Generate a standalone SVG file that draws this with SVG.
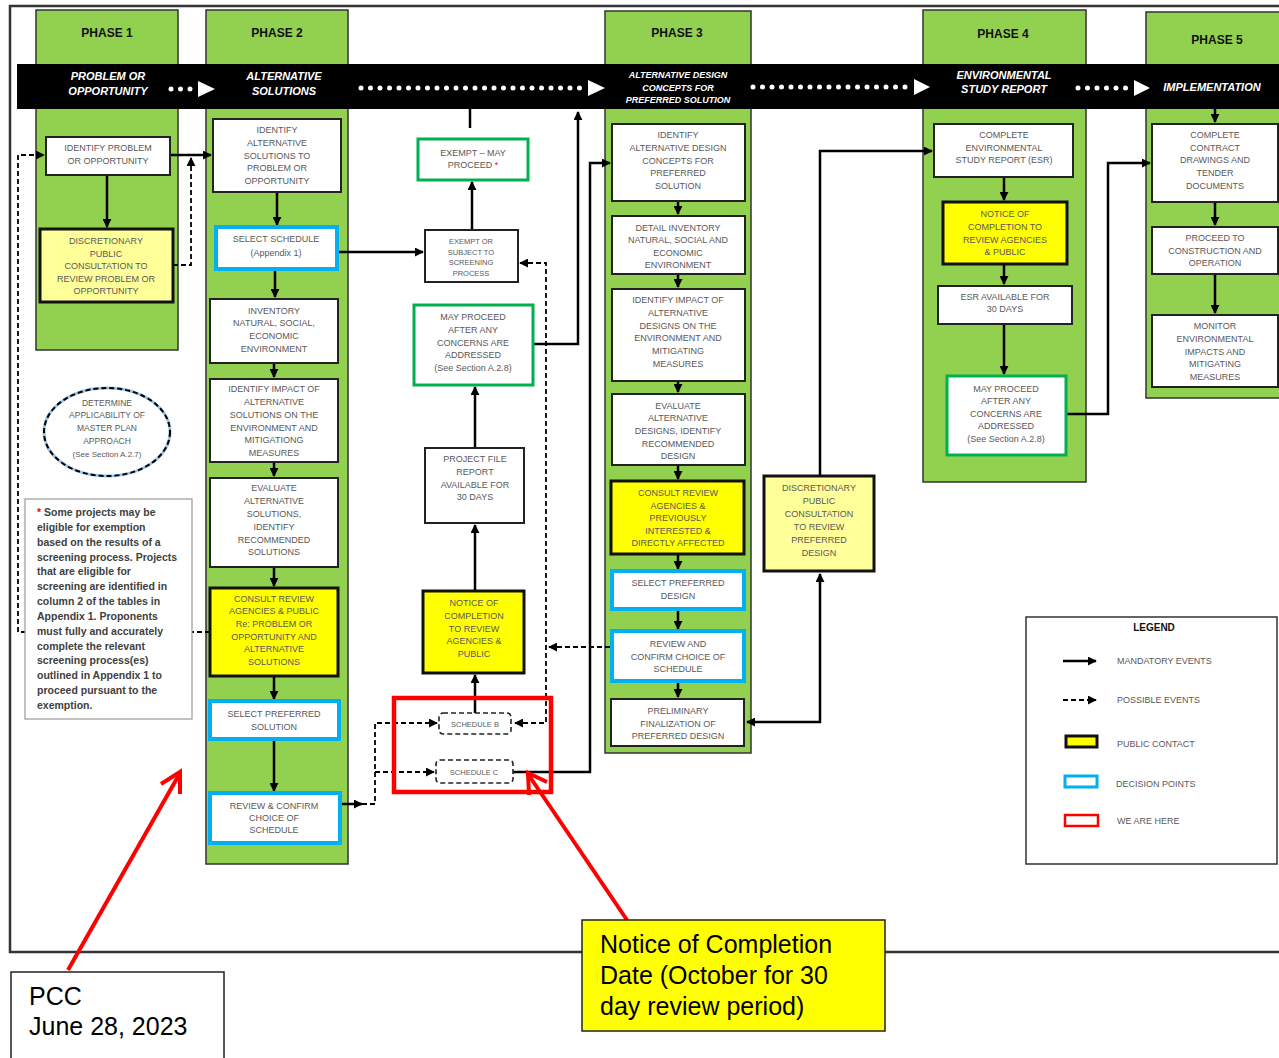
<svg xmlns="http://www.w3.org/2000/svg" width="1279" height="1058" viewBox="0 0 1279 1058">
<defs>
<style>
.t{font-family:"Liberation Sans",Arial,sans-serif;font-size:9px;fill:#595959;text-anchor:middle;dominant-baseline:central}
.ph{font-family:"Liberation Sans",Arial,sans-serif;font-size:12px;font-weight:bold;fill:#111;text-anchor:middle;dominant-baseline:central}
.bn{font-family:"Liberation Sans",Arial,sans-serif;font-size:11px;font-weight:bold;font-style:italic;fill:#fff;text-anchor:middle;dominant-baseline:central}
.col{fill:#92D050;stroke:#333;stroke-width:1.5}
.wb{fill:#fff;stroke:#222;stroke-width:2}
.yb{fill:#FFFF00;stroke:#111;stroke-width:3}
.pb{fill:#FFFF99;stroke:#111;stroke-width:3}
.bb{fill:#fff;stroke:#00B0F0;stroke-width:4}
.gb{fill:#fff;stroke:#00B050;stroke-width:3}
.sol{fill:none;stroke:#000;stroke-width:2.5;marker-end:url(#ah)}
.sl{fill:none;stroke:#000;stroke-width:2.5}
.das{fill:none;stroke:#000;stroke-width:1.8;stroke-dasharray:5 3;marker-end:url(#ah)}
.dots{stroke:#fff;stroke-width:5;stroke-linecap:round;stroke-dasharray:0 9.5}
.big{font-family:"Liberation Sans",Arial,sans-serif;font-size:25px;fill:#000}
.nt{font-family:"Liberation Sans",Arial,sans-serif;font-size:10.5px;font-weight:bold;fill:#404040}
</style>
<marker id="ah" viewBox="0 0 10 10" refX="9" refY="5" markerWidth="9" markerHeight="9" markerUnits="userSpaceOnUse" orient="auto-start-reverse">
<polygon points="0,0 10,5 0,10" fill="#000"/>
</marker>
</defs>
<rect width="1279" height="1058" fill="#fff"/>
<rect x="10" y="6" width="1300" height="946" fill="none" stroke="#333" stroke-width="2.5"/>

<!-- phase columns -->
<g id="phase1"><rect class="col" x="36" y="10" width="142" height="340"/><text class="ph" x="107" y="33">PHASE 1</text></g>
<g id="phase2"><rect class="col" x="206" y="10" width="142" height="854"/><text class="ph" x="277" y="33">PHASE 2</text></g>
<g id="phase3"><rect class="col" x="605" y="11" width="146" height="742"/><text class="ph" x="677" y="33">PHASE 3</text></g>
<g id="phase4"><rect class="col" x="923" y="10" width="163" height="472"/><text class="ph" x="1003" y="34">PHASE 4</text></g>
<g id="phase5"><rect class="col" x="1146" y="12" width="140" height="386"/><text class="ph" x="1217" y="40">PHASE 5</text></g>

<!-- banner -->
<g id="banner">
<rect x="17" y="64" width="1262" height="45" fill="#000"/>
<text class="bn" x="108" y="76">PROBLEM OR</text><text class="bn" x="108" y="91">OPPORTUNITY</text>
<line class="dots" x1="171" y1="89" x2="192" y2="89"/><polygon points="198,81 215,89 198,97" fill="#fff"/>
<text class="bn" x="284" y="76">ALTERNATIVE</text><text class="bn" x="284" y="91">SOLUTIONS</text>
<line class="dots" x1="361" y1="88" x2="584" y2="88"/><polygon points="588,80 605,88 588,96" fill="#fff"/>
<text class="bn" x="678" y="75" style="font-size:9px">ALTERNATIVE DESIGN</text><text class="bn" x="678" y="88" style="font-size:9px">CONCEPTS FOR</text><text class="bn" x="678" y="100" style="font-size:9px">PREFERRED SOLUTION</text>
<line class="dots" x1="753" y1="87" x2="910" y2="87"/><polygon points="914,79 930,87 914,95" fill="#fff"/>
<text class="bn" x="1004" y="75">ENVIRONMENTAL</text><text class="bn" x="1004" y="89">STUDY REPORT</text>
<line class="dots" x1="1078" y1="88" x2="1130" y2="88"/><polygon points="1134,80 1150,88 1134,96" fill="#fff"/>
<text class="bn" x="1212" y="87">IMPLEMENTATION</text>
</g>

<!-- connectors -->
<g id="connectors">
<path class="sol" d="M107,175 V227"/>
<path class="sol" d="M170,155 H211"/>
<path class="das" d="M173,265 H191 V158"/>
<path class="das" d="M210,632 H18 V155 H44"/>
<path class="sol" d="M277,193 V225"/>
<path class="sol" d="M275,269 V297"/>
<path class="sol" d="M274,363 V377"/>
<path class="sol" d="M274,462 V476"/>
<path class="sol" d="M274,567 V586"/>
<path class="sol" d="M274,676 V699"/>
<path class="sol" d="M274,739 V791"/>
<path class="sol" d="M338,252 H423"/>
<path class="sol" d="M472,230 V182"/>
<path class="sl" d="M470,108 V128"/>
<path class="sol" d="M340,804 H362"/>
<path class="das" d="M362,804 H375 V723 H437"/>
<path class="das" d="M375,772 H434"/>
<path class="sol" d="M475,713 V675"/>
<path class="sol" d="M475,591 V525"/>
<path class="sol" d="M475,448 V387"/>
<path class="sol" d="M533,344 H578 V112"/>
<path class="sol" d="M513,772 H590 V163 H610"/>
<path class="das" d="M520,263 H546 V723 H515" style="marker-start:url(#ah)"/>
<path class="das" d="M610,647 H549"/>
<path class="sol" d="M678,201 V214"/>
<path class="sol" d="M678,274 V287"/>
<path class="sol" d="M678,381 V392"/>
<path class="sol" d="M678,465 V479"/>
<path class="sol" d="M678,554 V569"/>
<path class="sol" d="M678,609 V629"/>
<path class="sol" d="M678,681 V697"/>
<path class="sol" d="M747,722 H820 V574" style="marker-start:url(#ah)"/>
<path class="sol" d="M820,476 V151 H932"/>
<path class="sol" d="M1004,177 V200"/>
<path class="sol" d="M1004,264 V284"/>
<path class="sol" d="M1004,324 V374"/>
<path class="sol" d="M1066,414 H1108 V163 H1150"/>
<path class="sol" d="M1215,108 V122"/>
<path class="sol" d="M1215,202 V225"/>
<path class="sol" d="M1215,274 V313"/>
</g>

<!-- phase 1 nodes -->
<g id="p1-identify"><rect class="wb" x="46" y="137" width="124" height="38"/><text class="t" x="108" y="148">IDENTIFY PROBLEM</text><text class="t" x="108" y="161">OR OPPORTUNITY</text></g>
<g id="p1-discretionary"><rect class="pb" x="40" y="229" width="133" height="73"/><text class="t" x="106" y="241">DISCRETIONARY</text><text class="t" x="106" y="254">PUBLIC</text><text class="t" x="106" y="266">CONSULTATION TO</text><text class="t" x="106" y="279">REVIEW PROBLEM OR</text><text class="t" x="106" y="291">OPPORTUNITY</text></g>

<g id="master-plan"><ellipse cx="107" cy="432" rx="63" ry="44" fill="#fff" stroke="#9DC3E6" stroke-width="3"/><ellipse cx="107" cy="432" rx="63" ry="44" fill="none" stroke="#000" stroke-width="2" stroke-dasharray="5 3"/>
<text class="t" x="107" y="403" style="font-size:8.5px">DETERMINE</text><text class="t" x="107" y="415" style="font-size:8.5px">APPLICABILITY OF</text><text class="t" x="107" y="428" style="font-size:8.5px">MASTER PLAN</text><text class="t" x="107" y="441" style="font-size:8.5px">APPROACH</text><text class="t" x="107" y="454" style="font-size:8px">(See Section A.2.7)</text></g>

<g id="note"><rect x="25" y="499" width="167" height="220" fill="#fff" stroke="#999" stroke-width="1.2"/>
<text class="nt" x="37" y="516"><tspan fill="#FF0000">*</tspan> Some projects may be</text>
<text class="nt" x="37" y="531">eligible for exemption</text>
<text class="nt" x="37" y="546">based on the results of a</text>
<text class="nt" x="37" y="561">screening process. Projects</text>
<text class="nt" x="37" y="575">that are eligible for</text>
<text class="nt" x="37" y="590">screening are identified in</text>
<text class="nt" x="37" y="605">column 2 of the tables in</text>
<text class="nt" x="37" y="620">Appendix 1. Proponents</text>
<text class="nt" x="37" y="635">must fully and accurately</text>
<text class="nt" x="37" y="650">complete the relevant</text>
<text class="nt" x="37" y="664">screening process(es)</text>
<text class="nt" x="37" y="679">outlined in Appendix 1 to</text>
<text class="nt" x="37" y="694">proceed pursuant to the</text>
<text class="nt" x="37" y="709">exemption.</text></g>

<!-- phase 2 nodes -->
<g id="p2-identify"><rect class="wb" x="213" y="119" width="128" height="73"/><text class="t" x="277" y="130">IDENTIFY</text><text class="t" x="277" y="143">ALTERNATIVE</text><text class="t" x="277" y="156">SOLUTIONS TO</text><text class="t" x="277" y="168">PROBLEM OR</text><text class="t" x="277" y="181">OPPORTUNITY</text></g>
<g id="p2-select-schedule"><rect class="bb" x="216" y="227" width="121" height="42"/><text class="t" x="276" y="239">SELECT SCHEDULE</text><text class="t" x="276" y="253">(Appendix 1)</text></g>
<g id="p2-inventory"><rect class="wb" x="210" y="299" width="128" height="64"/><text class="t" x="274" y="311">INVENTORY</text><text class="t" x="274" y="323">NATURAL, SOCIAL,</text><text class="t" x="274" y="336">ECONOMIC</text><text class="t" x="274" y="349">ENVIRONMENT</text></g>
<g id="p2-impact"><rect class="wb" x="210" y="379" width="128" height="83"/><text class="t" x="274" y="389">IDENTIFY IMPACT OF</text><text class="t" x="274" y="402">ALTERNATIVE</text><text class="t" x="274" y="415">SOLUTIONS ON THE</text><text class="t" x="274" y="428">ENVIRONMENT AND</text><text class="t" x="274" y="440">MITIGATIONG</text><text class="t" x="274" y="453">MEASURES</text></g>
<g id="p2-evaluate"><rect class="wb" x="210" y="478" width="128" height="89"/><text class="t" x="274" y="488">EVALUATE</text><text class="t" x="274" y="501">ALTERNATIVE</text><text class="t" x="274" y="514">SOLUTIONS,</text><text class="t" x="274" y="527">IDENTIFY</text><text class="t" x="274" y="540">RECOMMENDED</text><text class="t" x="274" y="552">SOLUTIONS</text></g>
<g id="p2-consult"><rect class="yb" x="210" y="588" width="128" height="88"/><text class="t" x="274" y="599">CONSULT REVIEW</text><text class="t" x="274" y="611">AGENCIES &amp; PUBLIC</text><text class="t" x="274" y="624">Re: PROBLEM OR</text><text class="t" x="274" y="637">OPPORTUNITY AND</text><text class="t" x="274" y="649">ALTERNATIVE</text><text class="t" x="274" y="662">SOLUTIONS</text></g>
<g id="p2-select-preferred"><rect class="bb" x="210" y="701" width="129" height="38"/><text class="t" x="274" y="714">SELECT PREFERRED</text><text class="t" x="274" y="727">SOLUTION</text></g>
<g id="p2-review"><rect class="bb" x="210" y="793" width="130" height="50"/><text class="t" x="274" y="806">REVIEW &amp; CONFIRM</text><text class="t" x="274" y="818">CHOICE OF</text><text class="t" x="274" y="830">SCHEDULE</text></g>

<!-- middle nodes -->
<g id="exempt"><rect class="gb" x="418" y="139" width="110" height="41"/><text class="t" x="473" y="153">EXEMPT – MAY</text><text class="t" x="473" y="165">PROCEED <tspan fill="#FF0000">*</tspan></text></g>
<g id="exempt-or-subject"><rect class="wb" x="425" y="230" width="93" height="52"/><text class="t" x="471" y="241" style="font-size:7.5px">EXEMPT OR</text><text class="t" x="471" y="252" style="font-size:7.5px">SUBJECT TO</text><text class="t" x="471" y="262" style="font-size:7.5px">SCREENING</text><text class="t" x="471" y="273" style="font-size:7.5px">PROCESS</text></g>
<g id="may-proceed-b"><rect class="gb" x="414" y="305" width="119" height="80"/><text class="t" x="473" y="317">MAY PROCEED</text><text class="t" x="473" y="330">AFTER ANY</text><text class="t" x="473" y="343">CONCERNS ARE</text><text class="t" x="473" y="355">ADDRESSED</text><text class="t" x="473" y="368">(See Section A.2.8)</text></g>
<g id="project-file"><rect class="wb" x="425" y="448" width="99" height="75"/><text class="t" x="475" y="459">PROJECT FILE</text><text class="t" x="475" y="472">REPORT</text><text class="t" x="475" y="485">AVAILABLE FOR</text><text class="t" x="475" y="497">30 DAYS</text></g>
<g id="notice-b"><rect class="yb" x="423" y="591" width="101" height="82"/><text class="t" x="474" y="603">NOTICE OF</text><text class="t" x="474" y="616">COMPLETION</text><text class="t" x="474" y="629">TO REVIEW</text><text class="t" x="474" y="641">AGENCIES &amp;</text><text class="t" x="474" y="654">PUBLIC</text></g>
<g id="schedule-b"><rect x="439" y="713" width="72" height="21" rx="4" fill="#fff" stroke="#222" stroke-width="1.6" stroke-dasharray="5 3"/><text class="t" x="475" y="724" style="font-size:7.5px">SCHEDULE B</text></g>
<g id="schedule-c"><rect x="436" y="760" width="77" height="23" rx="4" fill="#fff" stroke="#222" stroke-width="1.6" stroke-dasharray="5 3"/><text class="t" x="474" y="772" style="font-size:7.5px">SCHEDULE C</text></g>
<g id="we-are-here"><rect x="394" y="698" width="157" height="94" fill="none" stroke="#FF0000" stroke-width="4.5"/></g>

<!-- phase 3 nodes -->
<g id="p3-identify"><rect class="wb" x="612" y="124" width="133" height="77"/><text class="t" x="678" y="135">IDENTIFY</text><text class="t" x="678" y="148">ALTERNATIVE DESIGN</text><text class="t" x="678" y="161">CONCEPTS FOR</text><text class="t" x="678" y="173">PREFERRED</text><text class="t" x="678" y="186">SOLUTION</text></g>
<g id="p3-inventory"><rect class="wb" x="612" y="216" width="133" height="58"/><text class="t" x="678" y="228">DETAIL INVENTORY</text><text class="t" x="678" y="240">NATURAL, SOCIAL AND</text><text class="t" x="678" y="253">ECONOMIC</text><text class="t" x="678" y="265">ENVIRONMENT</text></g>
<g id="p3-impact"><rect class="wb" x="612" y="289" width="133" height="92"/><text class="t" x="678" y="300">IDENTIFY IMPACT OF</text><text class="t" x="678" y="313">ALTERNATIVE</text><text class="t" x="678" y="326">DESIGNS ON THE</text><text class="t" x="678" y="338">ENVIRONMENT AND</text><text class="t" x="678" y="351">MITIGATING</text><text class="t" x="678" y="364">MEASURES</text></g>
<g id="p3-evaluate"><rect class="wb" x="612" y="394" width="133" height="71"/><text class="t" x="678" y="406">EVALUATE</text><text class="t" x="678" y="418">ALTERNATIVE</text><text class="t" x="678" y="431">DESIGNS, IDENTIFY</text><text class="t" x="678" y="444">RECOMMENDED</text><text class="t" x="678" y="456">DESIGN</text></g>
<g id="p3-consult"><rect class="yb" x="611" y="481" width="133" height="73"/><text class="t" x="678" y="493">CONSULT REVIEW</text><text class="t" x="678" y="506">AGENCIES &amp;</text><text class="t" x="678" y="518">PREVIOUSLY</text><text class="t" x="678" y="531">INTERESTED &amp;</text><text class="t" x="678" y="543">DIRECTLY AFFECTED</text></g>
<g id="p3-select"><rect class="bb" x="612" y="571" width="132" height="38"/><text class="t" x="678" y="583">SELECT PREFERRED</text><text class="t" x="678" y="596">DESIGN</text></g>
<g id="p3-review"><rect class="bb" x="612" y="631" width="132" height="50"/><text class="t" x="678" y="644">REVIEW AND</text><text class="t" x="678" y="657">CONFIRM CHOICE OF</text><text class="t" x="678" y="669">SCHEDULE</text></g>
<g id="p3-preliminary"><rect class="wb" x="611" y="699" width="133" height="47"/><text class="t" x="678" y="711">PRELIMINARY</text><text class="t" x="678" y="724">FINALIZATION OF</text><text class="t" x="678" y="736">PREFERRED DESIGN</text></g>
<g id="p3-discretionary"><rect class="pb" x="764" y="476" width="110" height="95"/><text class="t" x="819" y="488">DISCRETIONARY</text><text class="t" x="819" y="501">PUBLIC</text><text class="t" x="819" y="514">CONSULTATION</text><text class="t" x="819" y="527">TO REVIEW</text><text class="t" x="819" y="540">PREFERRED</text><text class="t" x="819" y="553">DESIGN</text></g>

<!-- phase 4 nodes -->
<g id="p4-esr"><rect class="wb" x="934" y="124" width="139" height="53"/><text class="t" x="1004" y="135">COMPLETE</text><text class="t" x="1004" y="148">ENVIRONMENTAL</text><text class="t" x="1004" y="160">STUDY REPORT (ESR)</text></g>
<g id="p4-notice"><rect class="yb" x="943" y="202" width="124" height="62"/><text class="t" x="1005" y="214">NOTICE OF</text><text class="t" x="1005" y="227">COMPLETION TO</text><text class="t" x="1005" y="240">REVIEW AGENCIES</text><text class="t" x="1005" y="252">&amp; PUBLIC</text></g>
<g id="p4-available"><rect class="wb" x="938" y="286" width="134" height="38"/><text class="t" x="1005" y="297">ESR AVAILABLE FOR</text><text class="t" x="1005" y="309">30 DAYS</text></g>
<g id="p4-may-proceed"><rect class="gb" x="947" y="376" width="119" height="79"/><text class="t" x="1006" y="389">MAY PROCEED</text><text class="t" x="1006" y="401">AFTER ANY</text><text class="t" x="1006" y="414">CONCERNS ARE</text><text class="t" x="1006" y="426">ADDRESSED</text><text class="t" x="1006" y="439">(See Section A.2.8)</text></g>

<!-- phase 5 nodes -->
<g id="p5-contract"><rect class="wb" x="1152" y="124" width="126" height="78"/><text class="t" x="1215" y="135">COMPLETE</text><text class="t" x="1215" y="148">CONTRACT</text><text class="t" x="1215" y="160">DRAWINGS AND</text><text class="t" x="1215" y="173">TENDER</text><text class="t" x="1215" y="186">DOCUMENTS</text></g>
<g id="p5-construction"><rect class="wb" x="1152" y="227" width="126" height="47"/><text class="t" x="1215" y="238">PROCEED TO</text><text class="t" x="1215" y="251">CONSTRUCTION AND</text><text class="t" x="1215" y="263">OPERATION</text></g>
<g id="p5-monitor"><rect class="wb" x="1152" y="315" width="126" height="72"/><text class="t" x="1215" y="326">MONITOR</text><text class="t" x="1215" y="339">ENVIRONMENTAL</text><text class="t" x="1215" y="352">IMPACTS AND</text><text class="t" x="1215" y="364">MITIGATING</text><text class="t" x="1215" y="377">MEASURES</text></g>

<!-- legend -->
<g id="legend">
<rect x="1026" y="617" width="251" height="247" fill="#fff" stroke="#333" stroke-width="1.5"/>
<text class="ph" x="1154" y="627" style="font-size:10px">LEGEND</text>
<path class="sol" d="M1063,661 H1096"/><text class="t" x="1117" y="661" style="text-anchor:start">MANDATORY EVENTS</text>
<path class="das" d="M1063,700 H1096"/><text class="t" x="1117" y="700" style="text-anchor:start">POSSIBLE EVENTS</text>
<rect x="1066" y="736" width="31" height="11" fill="#FFFF00" stroke="#111" stroke-width="3"/><text class="t" x="1117" y="744" style="text-anchor:start">PUBLIC CONTACT</text>
<rect x="1065" y="776" width="32" height="11" fill="#fff" stroke="#00B0F0" stroke-width="3"/><text class="t" x="1116" y="784" style="text-anchor:start">DECISION POINTS</text>
<rect x="1065" y="815" width="33" height="11" fill="#fff" stroke="#FF0000" stroke-width="2.5"/><text class="t" x="1117" y="821" style="text-anchor:start">WE ARE HERE</text>
</g>

<!-- callouts -->
<g id="callout-arrows" fill="none" stroke="#FF0000" stroke-width="4">
<line x1="68" y1="970" x2="180" y2="773"/><polyline points="161,784 180,772 180,794"/>
<line x1="627" y1="920" x2="528" y2="774"/><polyline points="547,782 528,773 529,795"/>
</g>
<g id="pcc"><rect x="11" y="972" width="213" height="100" fill="#fff" stroke="#222" stroke-width="1.5"/><text class="big" x="29" y="1005">PCC</text><text class="big" x="29" y="1035">June 28, 2023</text></g>
<g id="notice-callout"><rect x="582" y="920" width="303" height="111" fill="#FFFF00" stroke="#222" stroke-width="1.5"/><text class="big" x="600" y="953">Notice of Completion</text><text class="big" x="600" y="984">Date (October for 30</text><text class="big" x="600" y="1015">day review period)</text></g>
</svg>
